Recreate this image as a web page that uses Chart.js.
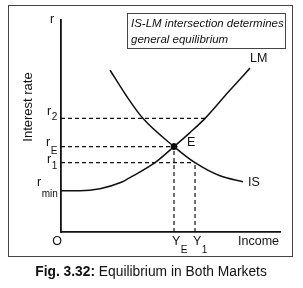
<!DOCTYPE html>
<html>
<head>
<meta charset="utf-8">
<script src="https://cdn.jsdelivr.net/npm/chart.js@4.4.1/dist/chart.umd.min.js"></script>
<style>
  html, body { margin: 0; padding: 0; background: #fff; }
  #wrap { width: 303px; height: 288px; }
</style>
</head>
<body>
<div id="wrap"><canvas id="islm"></canvas></div>
<script>
// curve points (income, interest rate)
const isIncome = [22.4, 29.7, 37.4, 51.6, 61.2, 72.6, 83.1];
const isRate   = [76.3, 64.5, 53.6, 40.3, 32.7, 26.5, 23.7];
const lmIncome = [0, 8.7, 17.8, 26.9, 32.9, 42.9, 51.6, 58.9, 65.8, 76.3, 86.3];
const lmRate   = [19.4, 19.4, 20.4, 23.2, 26.5, 32.7, 40.3, 46.9, 53.6, 65.9, 77.3];

// levels marked on the axes
const rateLevels = { r2: 53.6, rE: 40.3, r1: 32.7, rmin: 19.4 };
const incomeLevels = { YE: 51.6, Y1: 61.2 };
const r2End = 65.8; // where r2 meets LM

const toPts = (xs, ys) => xs.map((x, i) => ({ x: x, y: ys[i] }));

const dashed = (pts) => ({
    data: pts,
    showLine: true,
    borderColor: '#111',
    borderWidth: 1.2,
    borderDash: [4, 3],
    pointRadius: 0
});

// labels, frame, caption
const textPlugin = {
    id: 'textPlugin',
    afterDraw(chart) {
        const ctx = chart.ctx;
        const xs = chart.scales.x, ys = chart.scales.y;
        const px = v => xs.getPixelForValue(v);
        const py = v => ys.getPixelForValue(v);
        ctx.save();
        ctx.fillStyle = '#111';
        ctx.strokeStyle = '#444';
        ctx.lineWidth = 1;

        // outer frame
        ctx.strokeRect(8.5, 5.5, 284, 251);

        // note box
        ctx.strokeRect(127.5, 13.5, 158, 35);
        ctx.font = 'italic 11.5px "Liberation Sans"';
        ctx.textBaseline = 'alphabetic';
        ctx.textAlign = 'left';
        ctx.fillText('IS-LM intersection determines', 131, 27);
        ctx.fillText('general equilibrium', 131, 43);

        const main = '12.5px "Liberation Sans"';
        const sub = '10px "Liberation Sans"';
        function withSub(t, s, x, y, dy) {
            ctx.font = main;
            ctx.textAlign = 'left';
            ctx.fillText(t, x, y);
            const w = ctx.measureText(t).width;
            ctx.font = sub;
            ctx.fillText(s, x + w + 0.5, y + dy);
        }

        ctx.font = main;
        ctx.textAlign = 'center';
        ctx.fillText('r', 52, 23);
        withSub('r', '2', 47, py(rateLevels.r2) - 3, 5);
        withSub('r', 'E', 46, py(rateLevels.rE) - 1, 8);
        withSub('r', '1', 47, py(rateLevels.r1), 6);
        withSub('r', 'min', 37, py(rateLevels.rmin) - 5, 11);

        ctx.font = main;
        ctx.textAlign = 'center';
        ctx.fillText('O', 57, 245);
        withSub('Y', 'E', px(incomeLevels.YE) - 2, 245, 8);
        withSub('Y', '1', px(incomeLevels.Y1) - 2, 245, 8);
        ctx.textAlign = 'left';
        ctx.font = main;
        ctx.fillText('Income', 238, 245);

        ctx.fillText('E', 187, py(rateLevels.rE) - 1);
        ctx.fillText('IS', 248, 186);
        ctx.fillText('LM', 250, 62);

        // y title
        ctx.save();
        ctx.translate(32, 107);
        ctx.rotate(-Math.PI / 2);
        ctx.textAlign = 'center';
        ctx.font = '13px "Liberation Sans"';
        ctx.fillText('Interest rate', 0, 0);
        ctx.restore();

        // caption
        ctx.textAlign = 'left';
        const c1 = 'Fig. 3.32:', c2 = ' Equilibrium in Both Markets';
        ctx.font = 'bold 13.8px "Liberation Sans"';
        const w1 = ctx.measureText(c1).width;
        ctx.font = '13.8px "Liberation Sans"';
        const w2 = ctx.measureText(c2).width;
        const x0 = 151 - (w1 + w2) / 2;
        ctx.font = 'bold 13.8px "Liberation Sans"';
        ctx.fillText(c1, x0, 276);
        ctx.font = '13.8px "Liberation Sans"';
        ctx.fillText(c2, x0 + w1, 276);
        ctx.restore();
    }
};

new Chart(document.getElementById('islm'), {
    type: 'scatter',
    data: {
        datasets: [
            {
                data: toPts(isIncome, isRate),
                showLine: true,
                borderColor: '#111',
                borderWidth: 1.5,
                pointRadius: 0,
                cubicInterpolationMode: 'monotone'
            },
            {
                data: toPts(lmIncome, lmRate),
                showLine: true,
                borderColor: '#111',
                borderWidth: 1.5,
                pointRadius: 0,
                cubicInterpolationMode: 'monotone'
            },
            dashed([{ x: 0, y: rateLevels.r2 }, { x: r2End, y: rateLevels.r2 }]),
            dashed([{ x: 0, y: rateLevels.rE }, { x: incomeLevels.YE, y: rateLevels.rE }]),
            dashed([{ x: 0, y: rateLevels.r1 }, { x: incomeLevels.Y1, y: rateLevels.r1 }]),
            dashed([{ x: incomeLevels.YE, y: 0 }, { x: incomeLevels.YE, y: rateLevels.rE }]),
            dashed([{ x: incomeLevels.Y1, y: 0 }, { x: incomeLevels.Y1, y: rateLevels.r1 }]),
            {
                data: [{ x: incomeLevels.YE, y: rateLevels.rE }],
                pointRadius: 3,
                backgroundColor: '#000',
                borderColor: '#000'
            }
        ]
    },
    options: {
        responsive: true,
        maintainAspectRatio: false,
        animation: false,
        events: [],
        layout: { padding: { left: 53, top: 20, right: 23, bottom: 48 } },
        plugins: { legend: { display: false }, tooltip: { enabled: false } },
        scales: {
            x: {
                type: 'linear', min: 0, max: 100,
                grid: { display: false },
                ticks: { display: false },
                border: { display: true, color: '#111', width: 1.8 }
            },
            y: {
                type: 'linear', min: 0, max: 100,
                grid: { display: false },
                ticks: { display: false },
                border: { display: true, color: '#111', width: 1.8 }
            }
        }
    },
    plugins: [textPlugin]
});
</script>
</body>
</html>
